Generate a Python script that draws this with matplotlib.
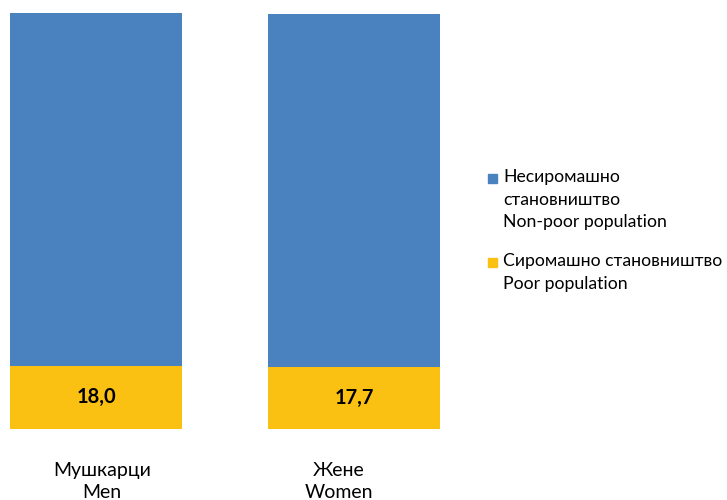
import matplotlib.pyplot as plt
from matplotlib.patches import Rectangle

categories = ["Мушкарци\nMen", "Жене\nWomen"]
poor = [18.0, 17.7]
non_poor = [100.0, 100.0]
poor_labels = ["18,0", "17,7"]
legend_labels = ["Несиромашно\nстановништво\nNon-poor population", "Сиромашно становништво\nPoor population"]

blue = "#4A81BF"
yellow = "#FBC112"

plt.rcParams["font.family"] = ["Lato", "DejaVu Sans"]

fig = plt.figure(figsize=(7.27, 5), dpi=100)
ax = fig.add_axes([10 / 727, 71 / 500, 430 / 727, 416 / 500])

x = list(range(len(categories)))
ax.bar(x, poor, width=2 / 3, color=yellow)
ax.bar(x, non_poor, width=2 / 3, bottom=poor, color=blue)
for xi, v, lab in zip(x, poor, poor_labels):
    ax.text(xi, v / 2, lab, ha="center", va="center", fontsize=14.5, fontweight="bold", color="#000000")

ax.set_xlim(-1 / 3, 1 + 1 / 3)
ax.set_ylim(0, 118)
# category labels sit a little off the bar centres in the original
ax.set_xticks([0.023, 0.94])
ax.set_xticklabels(categories, fontsize=14, linespacing=1.3)
ax.tick_params(axis="x", length=0, pad=24)
ax.set_yticks([])
for s in ax.spines.values():
    s.set_visible(False)

# legend drawn by hand so the swatches sit on the first line
items = [(blue, legend_labels[0], 178), (yellow, legend_labels[1], 262)]
for col, lab, ypix in items:
    fig.add_artist(Rectangle((488 / 727, 1 - (ypix + 5) / 500), 9 / 727, 9 / 500,
                             transform=fig.transFigure, color=col))
    fig.text(503 / 727, 1 - (ypix - 9) / 500, lab, ha="left", va="top", fontsize=12.7, linespacing=1.5)

plt.savefig("out.png", dpi=100)
